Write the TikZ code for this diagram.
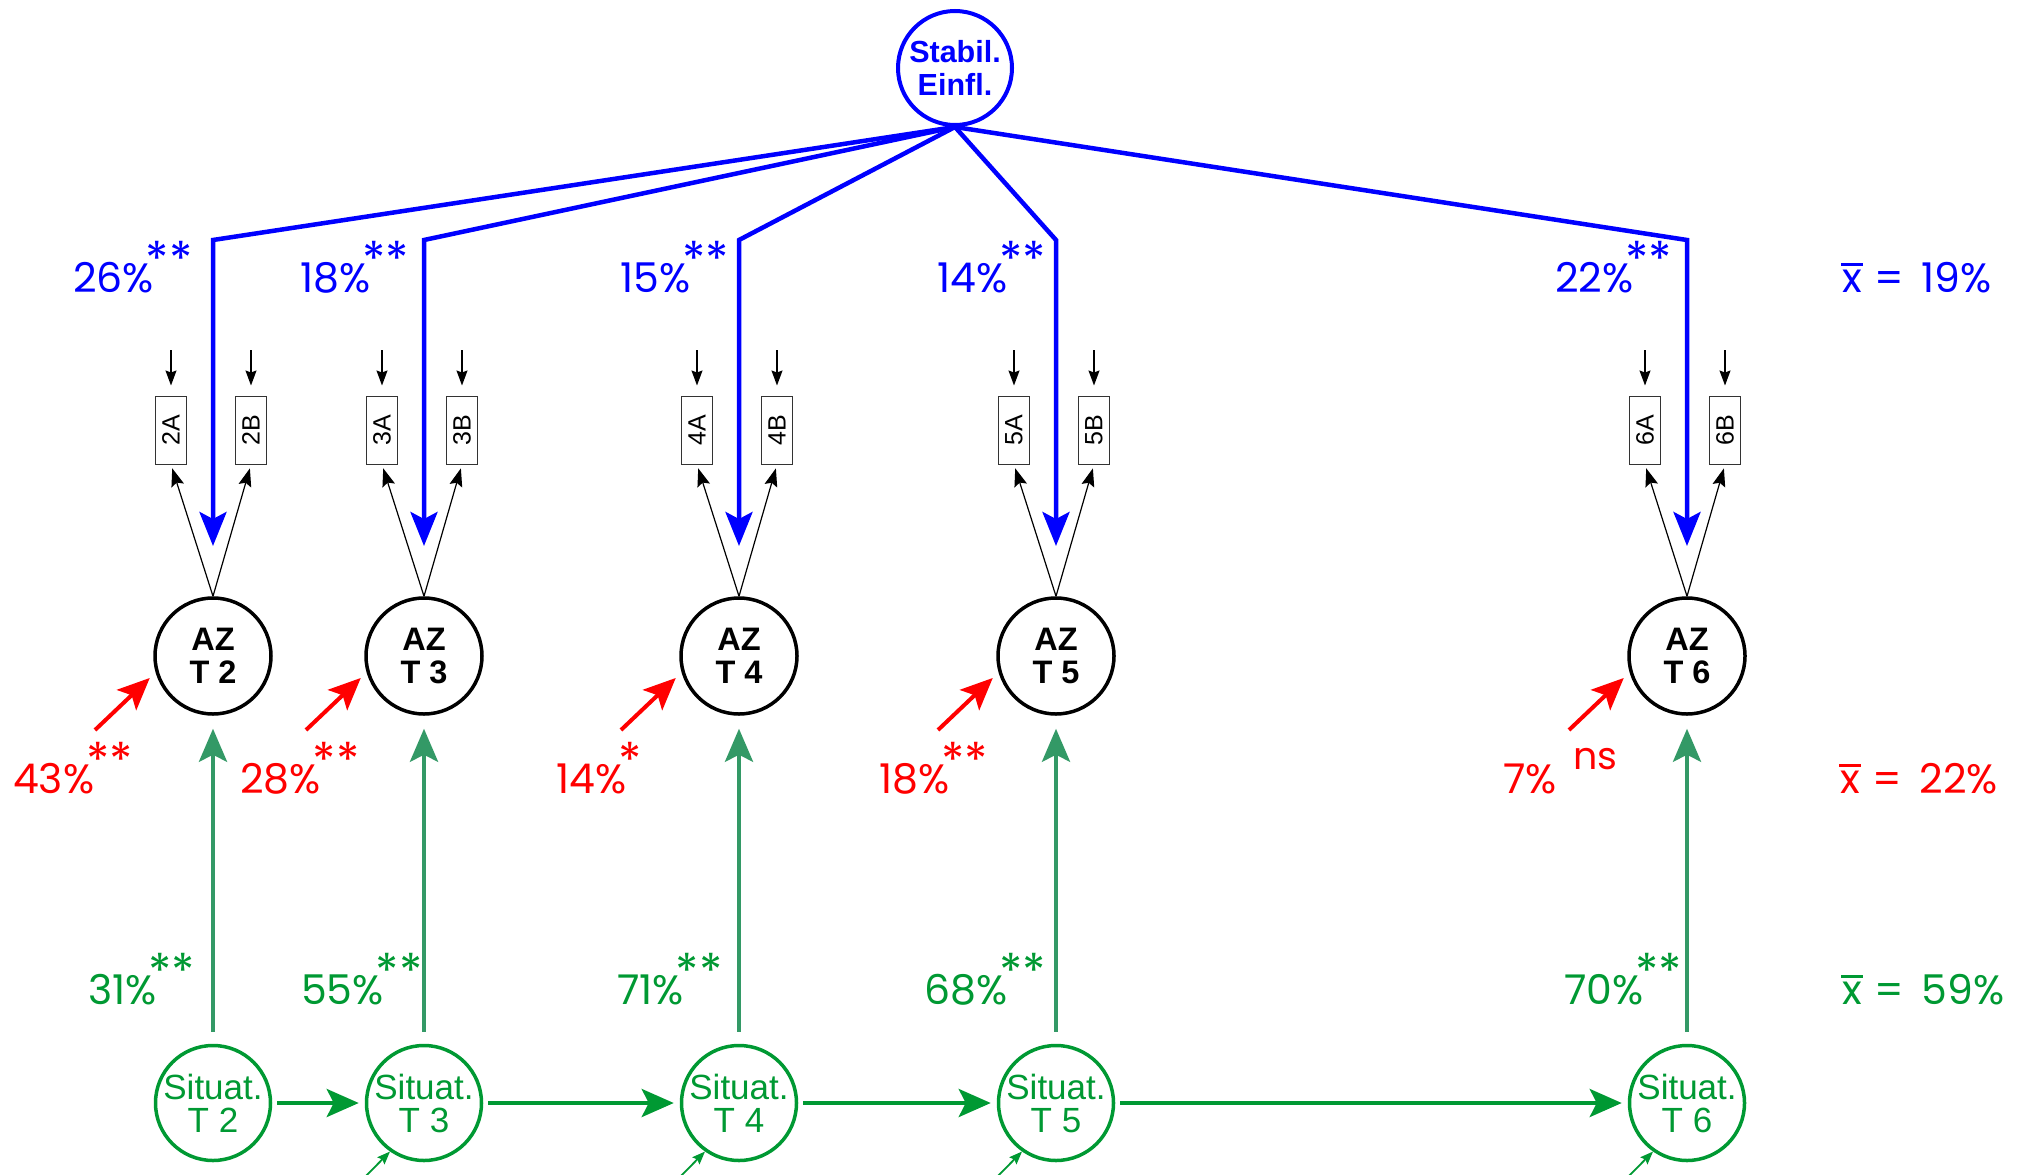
\documentclass[tikz,border=0pt]{standalone}
\usepackage{fontspec}
\usepackage{graphicx}
\setmainfont{Liberation Sans}
\newfontfamily\geo{Poppins}
\usetikzlibrary{arrows.meta}
\definecolor{sgreen}{HTML}{009933}
\definecolor{vgreen}{HTML}{339966}
\definecolor{pblue}{HTML}{0000FF}
\definecolor{pred}{HTML}{FF0000}
\newcommand\xbr{\setbox0\hbox{x}\rlap{\kern-1pt\raisebox{0.64em}{\rule{\dimexpr\wd0+2pt\relax}{0.06em}}}x}
\newcommand\pcs[2]{#1\%\kern-8pt\raisebox{16pt}{\fontsize{48}{48}\selectfont #2}}
\newcommand\mean[1]{\xbr\hspace{13pt}=\hspace{17pt}#1\%}
\begin{document}
\begin{tikzpicture}[x=1pt,y=-1pt,
  stabnode/.style={circle, draw=pblue, line width=4pt, minimum size=114pt, inner sep=0pt, text=pblue, font=\fontsize{30.5}{33}\selectfont\bfseries, align=center},
  aznode/.style={circle, draw=black, line width=3.5pt, minimum size=116pt, inner sep=0pt, font=\fontsize{32.5}{33}\selectfont\bfseries, align=center},
  sitnode/.style={circle, draw=sgreen, line width=3.5pt, minimum size=115pt, inner sep=0pt, text=sgreen, font=\fontsize{35}{33}\selectfont, align=center},
  indbox/.style={draw=black!80, line width=1pt, minimum width=31pt, minimum height=68pt, inner sep=0pt, font=\fontsize{25}{25}\selectfont},
  bluearr/.style={draw=pblue, line width=4.5pt, -{Stealth[length=34pt,width=27pt,inset=7pt]}},
  thinarr/.style={line width=1.2pt, -{Stealth[length=18pt,width=13pt,inset=3pt]}, shorten >=4pt},
  toparr/.style={line width=1.3pt, -{Stealth[length=15pt,width=11pt,inset=2pt]}, shorten >=10pt},
  redarr/.style={draw=pred, line width=4pt, -{Stealth[length=32pt,width=28pt,inset=7pt]}, shorten >=8pt},
  varr/.style={draw=vgreen, line width=4pt, -{Stealth[length=33pt,width=28pt,inset=7pt]}, shorten <=12pt, shorten >=13pt},
  harr/.style={draw=sgreen, line width=4pt, -{Stealth[length=32pt,width=28pt,inset=7pt]}, shorten <=5pt, shorten >=6pt},
  smallg/.style={draw=sgreen, line width=1.8pt, -{Stealth[length=13pt,width=10pt,inset=2pt]}},
  pctlab/.style={anchor=base west, inner sep=0pt, font=\geo\fontsize{41}{41}\selectfont}
]
\useasboundingbox (0,0) rectangle (2027,1175);
\fill[white] (0,0) rectangle (2027,1175);

\node[stabnode] (stab) at (955,68) {Stabil.\\Einfl.};

\foreach \i/\c in {2/213,3/424,4/739,5/1056,6/1687}{
  \node[aznode] (az\i) at (\c,656) {AZ\\T \i};
  \node[sitnode] (sit\i) at (\c,1103) {Situat.\\T \i};
  \node[indbox] (A\i) at (\c-42,430) {\rotatebox{90}{\i A}};
  \node[indbox] (B\i) at (\c+38,430) {\rotatebox{90}{\i B}};
  \coordinate (k\i) at (\c,240);
  \coordinate (e\i) at (\c,546);
  \coordinate (tA\i) at (\c-42,350);
  \coordinate (tB\i) at (\c+38,350);
  \coordinate (rs\i) at (\c-118,730);
  \draw[bluearr] (stab.south) -- (k\i) -- (e\i);
  \draw[toparr] (tA\i) -- (A\i);
  \draw[toparr] (tB\i) -- (B\i);
  \draw[thinarr] (az\i.north) -- (A\i.south);
  \draw[thinarr] (az\i.north) -- (B\i.south);
  \draw[redarr] (rs\i) -- (az\i.196);
  \draw[varr] (sit\i) -- (az\i);
}

\draw[harr] (sit2) -- (sit3);
\draw[harr] (sit3) -- (sit4);
\draw[harr] (sit4) -- (sit5);
\draw[harr] (sit5) -- (sit6);

\foreach \i/\c in {3/424,4/739,5/1056,6/1687}{
  \coordinate (g\i) at (\c-62,1180);
  \draw[smallg] (g\i) -- (sit\i.235);
}

% blue labels
\node[pctlab, text=pblue] (lb2) at (73,292) {\pcs{26}{**}};
\node[pctlab, text=pblue] (lb3) at (300,292) {\pcs{18}{**}};
\node[pctlab, text=pblue] (lb4) at (620,292) {\pcs{15}{**}};
\node[pctlab, text=pblue] (lb5) at (937,292) {\pcs{14}{**}};
\node[pctlab, text=pblue] (lb6) at (1555,292) {\pcs{22}{**}};
\node[pctlab, text=pblue] (mb) at (1842,292) {\mean{19}};

% red labels
\node[pctlab, text=pred] (lr2) at (13,793) {\pcs{43}{**}};
\node[pctlab, text=pred] (lr3) at (240,793) {\pcs{28}{**}};
\node[pctlab, text=pred] (lr4) at (556,793) {\pcs{14}{*}};
\node[pctlab, text=pred] (lr5) at (879,793) {\pcs{18}{**}};
\node[pctlab, text=pred] (lr6) at (1503,793) {7\%};
\node[pctlab, text=pred, font=\geo\fontsize{38}{38}\selectfont] (ns6) at (1573,769) {ns};
\node[pctlab, text=pred] (mr) at (1840,793) {\mean{22}};

% green labels
\node[pctlab, text=sgreen] (lg2) at (88,1004) {\pcs{31}{**}};
\node[pctlab, text=sgreen] (lg3) at (301,1004) {\pcs{55}{**}};
\node[pctlab, text=sgreen] (lg4) at (617,1004) {\pcs{71}{**}};
\node[pctlab, text=sgreen] (lg5) at (924,1004) {\pcs{68}{**}};
\node[pctlab, text=sgreen] (lg6) at (1564,1004) {\pcs{70}{**}};
\node[pctlab, text=sgreen] (mg) at (1842,1004) {\mean{59}};
\end{tikzpicture}
\end{document}
